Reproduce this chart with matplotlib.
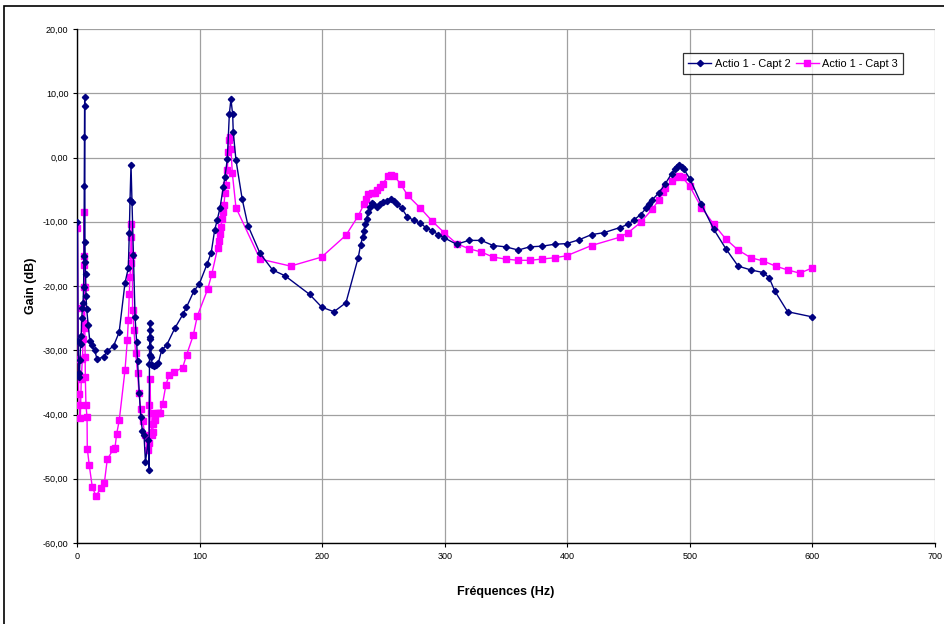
import numpy as np
import matplotlib
matplotlib.use("Agg")
import matplotlib.pyplot as plt
from matplotlib.patches import Rectangle
from matplotlib.ticker import FuncFormatter

# Actio 1 - Capt 2 (navy, diamonds)
freq2 = [0, 0.5, 1, 1.5, 2, 2.5, 3, 3.5, 4, 4.5, 5, 5.3, 5.5, 5.7, 5.8, 5.9,
         6.1, 6.3, 6.6, 7, 7.5, 8.7, 10, 11.8, 14, 16, 21.4, 24.5, 29.5, 34,
         38.8, 41.5, 42.3, 42.9, 43.7, 44.5, 45.6, 47, 48.3, 49, 50.5, 51.6,
         53, 54.3, 55.5, 57.8, 58.4, 58.7, 58.8, 58.9, 59, 59.1, 59.2, 59.6,
         60.2, 61, 62.5, 64, 66, 68.7, 72.8, 79.4, 86.4, 89, 95, 99.4, 106,
         109.2, 112, 114, 116.3, 119, 120.4, 122.3, 124, 125.3, 126.7, 127.2,
         129.4, 134.5, 139.2, 149, 159.3, 169.4, 189.5, 199.5, 209.4, 219.2,
         229.2, 231.2, 232.8, 233.9, 234.7, 236, 237.4, 238.8, 240.2, 241.5,
         244.2, 246.9, 249.6, 252.4, 255.7, 258.4, 261, 264.7, 269.2, 274.7,
         279.6, 284.5, 289.6, 294.6, 299.4, 309.5, 319.6, 329.6, 339.4, 349.5,
         359.9, 369.4, 379.4, 389.5, 399.3, 409.6, 419.7, 429.8, 442.9, 449.6,
         454.3, 459.8, 464.6, 466.8, 469.2, 474.7, 479.6, 485.1, 487.8, 489.7,
         491.3, 493.2, 495.1, 500, 509.5, 519.6, 529.4, 539.4, 549.8, 559.8,
         564.7, 569.4, 579.8, 599.8]
gain2 = [-10.0, -28.5, -33.5, -34.2, -31.5, -29.0, -27.8, -25.0, -23.5, -22.7,
         -20.1, -15.4, -4.5, 3.2, 8.0, 9.4,
         -13.1, -16.2, -18.2, -21.6, -23.6, -26.0, -28.5, -29.2, -30.0, -31.4,
         -31.0, -30.1, -29.3, -27.2,
         -19.5, -17.2, -11.8, -6.6, -1.1, -7.0, -15.2, -24.8, -28.7, -31.6,
         -36.7, -40.4, -42.5, -43.2, -47.4, -44.0, -48.7, -32.1, -30.8, -29.5,
         -28.2, -26.9, -25.8, -28.0, -31.0, -32.3, -32.5, -32.3, -32.0, -30.0,
         -29.2, -26.6, -24.3, -23.3, -20.8, -19.7, -16.5, -14.8, -11.3, -9.8,
         -7.9, -4.6, -3.0, -0.3, 6.8, 9.1, 6.7, 3.9, -0.4, -6.5, -10.6, -14.9,
         -17.5, -18.4, -21.3, -23.3, -24.0, -22.6, -15.6, -13.6, -12.4, -11.4,
         -10.3, -9.5, -8.5, -7.7, -7.1, -7.3, -7.7, -7.3, -6.9, -6.8, -6.5,
         -6.8, -7.2, -7.9, -9.2, -9.8, -10.2, -10.9, -11.4, -12.0, -12.5,
         -13.5, -12.9, -12.9, -13.7, -13.9, -14.4, -13.9, -13.8, -13.5, -13.4,
         -12.8, -12.0, -11.7, -10.9, -10.4, -9.7, -8.9, -7.8, -7.3, -6.6,
         -5.5, -4.2, -2.5, -1.8, -1.5, -1.2, -1.5, -1.8, -3.3, -7.3, -11.2,
         -14.2, -16.9, -17.5, -17.9, -18.7, -20.8, -24.0, -24.8]

# Actio 1 - Capt 3 (magenta, squares)
freq3 = [0, 0.3, 0.6, 1, 1.5, 2.3, 3.1, 4, 4.7, 5, 5.2, 5.3, 5.4, 5.5, 5.8,
         6, 6.2, 6.4, 6.9, 7.8, 8, 9.6, 12.1, 15.1, 18.9, 21.9, 24.3, 29.2,
         30.6, 32, 34.1, 38.8, 40.7, 41.5, 42.3, 42.9, 43.4, 43.7, 44, 44.7,
         45, 46.1, 47.5, 49.1, 50.2, 51.6, 53.2, 55.1, 57.3, 58.4, 58.6, 59.2,
         59.8, 60.6, 61.4, 61.9, 63.3, 64.6, 66, 67.3, 69.5, 72.2, 74.7, 79,
         85.9, 89.1, 94.5, 97.8, 106.3, 109.6, 114.4, 115.5, 116.3, 117.1,
         118.2, 119, 119.6, 120.4, 121.2, 122.3, 123.1, 124, 124.5, 125.3,
         126.4, 129.4, 149, 174, 199.3, 219.2, 229.2, 234.1, 235.5, 237.4,
         240.2, 242.9, 244.7, 246.9, 249.1, 253.7, 255.7, 258.4, 264.1, 269.6,
         279.6, 289.6, 299.4, 309.5, 319.6, 329.6, 339.4, 349.5, 359.5, 369.4,
         379.4, 389.5, 399.3, 419.7, 442.9, 449.6, 459.8, 469.5, 474.7, 478.2,
         479.6, 485.1, 488.6, 491.3, 494, 500, 509.5, 519.6, 529.4, 539.4,
         549.8, 559.8, 570, 579.8, 589.8, 599.8]
gain3 = [-11.0, -23.4, -31.3, -36.8, -38.5, -40.6, -34.4, -31.3, -28.2, -25.8,
         -20.1, -16.8, -15.4, -8.5, -20.1, -26.6, -31.0, -34.2, -38.5, -40.4,
         -45.3, -47.9, -51.3, -52.7, -51.5, -50.7, -47.0, -45.4, -45.2, -43.0,
         -40.9, -33.1, -28.4, -25.3, -21.2, -18.6, -16.4, -12.4, -10.3, -15.2,
         -23.8, -26.9, -30.5, -33.6, -36.7, -39.1, -41.0, -43.2, -45.6, -44.5,
         -38.5, -34.4, -39.8, -43.2, -42.7, -41.4, -40.9, -39.8, -39.8, -39.8,
         -38.3, -35.4, -33.9, -33.4, -32.7, -30.7, -27.7, -24.7, -20.5, -18.2,
         -14.1, -13.0, -11.9, -10.8, -9.5, -8.5, -7.4, -5.6, -4.3, -2.0, 0.9,
         2.7, 3.2, 1.4, -2.4, -7.8, -15.8, -16.9, -15.5, -12.1, -9.1, -7.2,
         -6.4, -5.7, -5.5, -5.6, -5.1, -4.6, -4.1, -2.9, -2.7, -2.8, -4.2,
         -5.9, -7.8, -9.9, -11.7, -13.4, -14.2, -14.7, -15.5, -15.8, -16.0,
         -16.0, -15.8, -15.6, -15.3, -13.7, -12.4, -11.7, -10.1, -8.0, -6.6,
         -5.4, -4.8, -3.7, -3.0, -2.9, -3.1, -4.5, -7.8, -10.4, -12.7, -14.4,
         -15.6, -16.1, -16.9, -17.5, -18.0, -17.2]

xticks = np.arange(0, 701, 100)
yticks = np.arange(-60, 21, 10)

plt.rcParams['font.family'] = ['Liberation Sans', 'DejaVu Sans']

fig = plt.figure(figsize=(9.45, 6.24), dpi=100)
ax = fig.add_axes([0.082, 0.1298, 0.9072, 0.8237])

# outer chart frame
fig.patches.append(Rectangle((4 / 945, -0.05), 1.1, 1 - 6 / 624 + 0.05,
                             transform=fig.transFigure, fill=False,
                             edgecolor='black', linewidth=1.2))

ax.plot(freq2, gain2, color='#000080', marker='D', markersize=3.2,
        linewidth=1, label='Actio 1 - Capt 2', zorder=4)
ax.plot(freq3, gain3, color='#ff00ff', marker='s', markersize=4.3,
        linewidth=1, label='Actio 1 - Capt 3', zorder=3)

ax.set_xlim(0, 700)
ax.set_ylim(-60, 20)
ax.set_xticks(xticks)
ax.set_yticks(yticks)
ax.yaxis.set_major_formatter(FuncFormatter(lambda v, p: f"{v:.2f}".replace('.', ',')))
ax.grid(True, color='#a0a0a0', linewidth=0.9)
ax.set_axisbelow(True)
for s in ['top', 'right']:
    ax.spines[s].set_visible(False)
for s in ['left', 'bottom']:
    ax.spines[s].set_color('black')
    ax.spines[s].set_linewidth(1)
ax.tick_params(labelsize=6.5, length=3, width=0.8, direction='out')

ax.set_xlabel('Fréquences (Hz)', fontsize=9, fontweight='bold', labelpad=18)
ax.set_ylabel('Gain (dB)', fontsize=9, fontweight='bold', labelpad=4)

leg = ax.legend(loc='upper left', bbox_to_anchor=(0.706, 0.953), ncol=2,
                fontsize=7.9, frameon=True, fancybox=False, borderaxespad=0,
                handlelength=2.1, columnspacing=0.5, handletextpad=0.3,
                borderpad=0.5)
leg.get_frame().set_edgecolor('black')
leg.get_frame().set_linewidth(0.9)

fig.savefig('out.png', dpi=100)
